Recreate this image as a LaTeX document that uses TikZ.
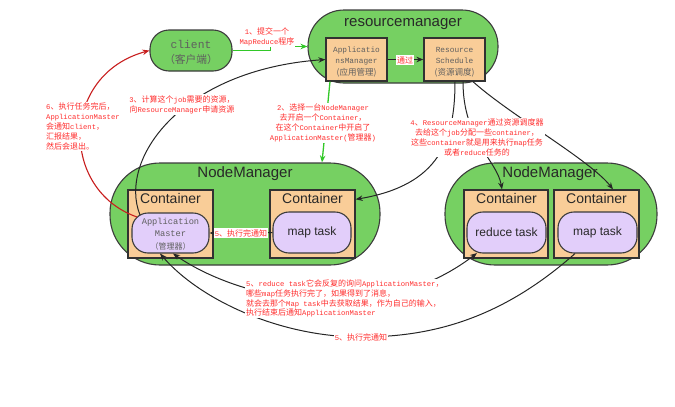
\documentclass[tikz,border=0pt]{standalone}
\usepackage{fontspec}
\newfontfamily\zhf{Noto Sans CJK SC}
\newfontfamily\sansf{Liberation Sans}
\newfontfamily\monof{Liberation Mono}
\newfontfamily\lmonof{Liberation Mono}[Scale=0.9]
\newcommand\zh[1]{{\zhf #1}}
\usetikzlibrary{arrows.meta,calc}
\definecolor{nmgreen}{RGB}{118,208,98}
\definecolor{peachc}{RGB}{249,205,152}
\definecolor{lavc}{RGB}{226,206,250}
\definecolor{bord}{RGB}{60,60,60}
\definecolor{bord2}{RGB}{50,50,50}
\definecolor{labred}{RGB}{255,45,45}
\definecolor{arrred}{RGB}{200,30,30}
\definecolor{arrgreen}{RGB}{50,200,40}
\definecolor{graytxt}{RGB}{95,95,95}
\definecolor{darktxt}{RGB}{40,40,40}
\begin{document}
\begin{tikzpicture}[x=1pt,y=-1pt,
  box/.style={draw=bord, line width=1.1pt, inner sep=0pt},
  pillg/.style={box, fill=nmgreen},
  peach/.style={box, fill=peachc, line width=1.3pt, draw=bord2},
  lav/.style={box, fill=lavc, text=darktxt, font=\sansf\fontsize{12}{12}\selectfont},
  txt/.style={inner sep=0pt, anchor=base},
  ttl/.style={txt, text=darktxt, font=\sansf\fontsize{15}{15}\selectfont},
  ctl/.style={txt, text=darktxt, font=\sansf\fontsize{14}{14}\selectfont},
  lab/.style={inner sep=1pt, fill=white, text=labred, font=\lmonof\fontsize{8}{9.8}\selectfont, align=center},
  arr/.style={line width=1pt, draw=black!85, -{Stealth[length=7pt,width=5.5pt]}},
  garr/.style={line width=1.3pt, draw=arrgreen, -{Stealth[length=7pt,width=5.5pt]}},
  rarr/.style={line width=1.1pt, draw=arrred, -{Stealth[length=7pt,width=5.5pt]}},
]
\useasboundingbox (0,0) rectangle (675,407);

% client
\node[pillg, minimum width=82pt, minimum height=41pt, rounded corners=19pt] (client) at (191,50.5) {};
\node[txt, text=graytxt, font=\monof\fontsize{11.3}{12}\selectfont] (clientt1) at (191,48) {client};
\node[txt, text=graytxt, font=\zhf\fontsize{10.7}{12}\selectfont] (clientt2) at (191,63.5) {（客户端）};

% resourcemanager
\node[pillg, minimum width=190pt, minimum height=73pt, rounded corners=36pt] (rm) at (403,46.5) {};
\node[ttl] (rmt) at (403,26) {resourcemanager};
\node[peach, minimum width=61pt, minimum height=43pt] (am) at (356.5,59.5) {};
\node[txt, text=graytxt, font=\monof\fontsize{7.8}{9}\selectfont] (amt1) at (356.5,52) {Applicatio};
\node[txt, text=graytxt, font=\monof\fontsize{7.8}{9}\selectfont] (amt2) at (356.5,63) {nsManager};
\node[txt, text=graytxt, font=\zhf\fontsize{8.5}{9}\selectfont] (amt3) at (356.5,75) {(应用管理)};
\node[peach, minimum width=61pt, minimum height=43pt] (rs) at (454.5,59.5) {};
\node[txt, text=graytxt, font=\monof\fontsize{7.8}{9}\selectfont] (rst1) at (454.5,52) {Resource};
\node[txt, text=graytxt, font=\monof\fontsize{7.8}{9}\selectfont] (rst2) at (454.5,63) {Schedule};
\node[txt, text=graytxt, font=\zhf\fontsize{8.5}{9}\selectfont] (rst3) at (454.5,75) {(资源调度)};

% NodeManager 1
\node[pillg, minimum width=270pt, minimum height=102pt, rounded corners=50pt] (nm1) at (245,214) {};
\node[ttl] (nm1t) at (245,177) {NodeManager};
\node[peach, minimum width=85pt, minimum height=68pt] (c1) at (170.5,224) {};
\node[ctl] (c1t) at (170.5,203) {Container};
\node[lav, minimum width=77pt, minimum height=40pt, rounded corners=16pt] (amp) at (170.5,233) {};
\node[txt, text=graytxt, font=\monof\fontsize{8.7}{9}\selectfont] (ampt1) at (170.5,224) {Application};
\node[txt, text=graytxt, font=\monof\fontsize{8.7}{9}\selectfont] (ampt2) at (170.5,236) {Master};
\node[txt, text=graytxt, font=\zhf\fontsize{8}{9}\selectfont] (ampt3) at (170.5,249) {（管理器）};
\node[peach, minimum width=85pt, minimum height=68pt] (c2) at (312.5,224) {};
\node[ctl] (c2t) at (312.5,203) {Container};
\node[lav, minimum width=78pt, minimum height=41pt, rounded corners=16pt] (mt1) at (312,232.5) {map task};

% NodeManager 2
\node[pillg, minimum width=212pt, minimum height=102pt, rounded corners=50pt] (nm2) at (551,214) {};
\node[ttl] (nm2t) at (550,177) {NodeManager};
\node[peach, minimum width=84pt, minimum height=68pt] (c3) at (506,224) {};
\node[ctl] (c3t) at (506.5,203) {Container};
\node[lav, minimum width=79pt, minimum height=41pt, rounded corners=16pt] (rt) at (506.5,232.5) {reduce task};
\node[peach, minimum width=85pt, minimum height=68pt] (c4) at (596.5,224) {};
\node[ctl] (c4t) at (596.5,203) {Container};
\node[lav, minimum width=79pt, minimum height=41pt, rounded corners=16pt] (mt2) at (597.5,232.5) {map task};

% connectors
\draw[garr] (client.east) -- ++(38,0) |- (rm.west);
\draw[garr] ($(rm.south)+(-73,-2)$) -- ($(nm1.north)+(77,0)$);
\draw[arr] (am.east) -- (rs.west);
\draw[arr] ($(amp.center)+(-30.5,-18)$) .. controls (118,160) and (180,70) .. (am.west);
\draw[rarr] ($(amp.center)+(-33.5,-16)$) .. controls (60,190) and (60,75) .. (client.west);
\draw[arr] ($(rs.south)+(0.5,0)$) .. controls (455,140) and (440,185) .. ($(c2.north east)+(0,10)$);
\draw[arr] ($(rs.south)+(8.5,0)$) .. controls (463,140) and (497,160) .. ($(c3.north)+(-4,0)$);
\draw[arr] ($(rs.south)+(18.5,0)$) .. controls (510,115) and (590,160) .. ($(c4.north)+(16.5,0)$);
\draw[arr, {Stealth[length=7pt,width=5.5pt]}-{Stealth[length=7pt,width=5.5pt]}] ($(amp.south)+(2.5,0)$) .. controls (240,300) and (377,330) .. ($(rt.south)+(-29.5,-0.5)$);
\coordinate (l5bp) at (361,337);
\draw[arr] ($(mt2.south)+(-22.5,0)$) .. controls (500,320) and (430,337) .. (l5bp) .. controls (280,337) and (200,300) .. ($(amp.south)+(-10.5,0)$);
\draw[arr] (mt1.west) -- (amp.east);

% labels
\node[lab] (l1) at (267,37) {1\zh{、提交一个}\\MapReduce\zh{程序}};
\node[lab] (l2) at (323,123) {2\zh{、选择一台}NodeManager\\\zh{去开启一个}Container\zh{，}\\\zh{在这个}Container\zh{中开启了}\\ApplicationMaster(\zh{管理器})};
\node[lab] (l3) at (182,104.5) {3\zh{、计算这个}job\zh{需要的资源，}\\\zh{向}ResourceManager\zh{申请资源}};
\node[lab] (l4) at (477,137.5) {4\zh{、}ResourceManager\zh{通过资源调度器}\\\zh{去给这个}job\zh{分配一些}container\zh{，}\\\zh{这些}container\zh{就是用来执行}map\zh{任务}\\\zh{或者}reduce\zh{任务的}};
\node[lab, align=left, anchor=west] (l5a) at (245,298.5) {5\zh{、}reduce task\zh{它会反复的询问}ApplicationMaster\zh{，}\\\zh{哪些}map\zh{任务执行完了，如果得到了消息，}\\\zh{就会去那个}Map task\zh{中去获取结果，作为自己的输入，}\\\zh{执行结束后通知}ApplicationMaster};
\node[lab] (l5b) at (l5bp) {5\zh{、执行完通知}};
\node[lab] (l5c) at (241,233) {5\zh{、执行完通知}};
\node[lab, align=left, anchor=west] (l6) at (45,126.5) {6\zh{、执行任务完后，}\\ApplicationMaster\\\zh{会通知}client\zh{，}\\\zh{汇报结果，}\\\zh{然后会退出。}};
\node[lab] (ltg) at (405,60) {\zh{通过}};
\end{tikzpicture}
\end{document}
